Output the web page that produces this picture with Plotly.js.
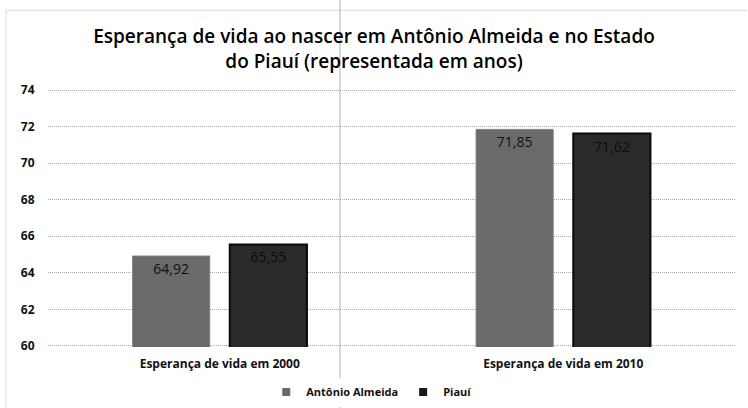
<!DOCTYPE html>
<html>
<head>
<meta charset="utf-8">
<script src="https://cdn.plot.ly/plotly-3.0.1.min.js"></script>
<style>html,body{margin:0;padding:0;background:#fff;}#chart{width:748px;height:408px;}</style>
</head>
<body>
<div id="chart"></div>
<script>
var categories = ["Esperança de vida em 2000", "Esperança de vida em 2010"];
var seriesNames = ["Antônio Almeida", "Piauí"];
var antonioAlmeida = [64.92, 71.85];
var piaui = [65.55, 71.62];
var yTicks = [60, 62, 64, 66, 68, 70, 72, 74];

var fontFam = "'Open Sans', sans-serif";
var colA = "#6a6a6a", colP = "#2a2a2a";

var traces = [
  {
    type: "bar", name: seriesNames[0], x: categories, y: antonioAlmeida,
    marker: {color: colA, line: {color: "#858585", width: 1}},
    texttemplate: "%{y:.2f}", textposition: "inside", insidetextanchor: "end",
    textfont: {family: fontFam, size: 14, color: "#111111"},
    showlegend: false, hoverinfo: "skip"
  },
  {
    type: "bar", name: seriesNames[1], x: categories, y: piaui,
    marker: {color: colP, line: {color: "#0a0a0a", width: 2}},
    texttemplate: "%{y:.2f}", textposition: "inside", insidetextanchor: "end",
    textfont: {family: fontFam, size: 14, color: "#0c0c0c"},
    showlegend: false, hoverinfo: "skip"
  },
  {type: "scatter", mode: "markers", name: seriesNames[0], x: [null], y: [null],
   marker: {symbol: "square", size: 8, color: colA}, hoverinfo: "skip"},
  {type: "scatter", mode: "markers", name: seriesNames[1], x: [null], y: [null],
   marker: {symbol: "square", size: 8, color: "#1a1a1a"}, hoverinfo: "skip"}
];

var layout = {
  width: 748, height: 408,
  margin: {l: 48, r: 13, t: 89, b: 61},
  paper_bgcolor: "#ffffff", plot_bgcolor: "#ffffff",
  separators: ",.",
  title: {
    text: "Esperança de vida ao nascer em Antônio Almeida e no Estado<br>do Piauí (representada em anos)",
    font: {family: fontFam, size: 19, color: "#000", weight: 600},
    x: 0.5, xanchor: "center", xref: "container",
    y: 1 - 43/408, yanchor: "top", yref: "container"
  },
  barmode: "group", bargap: 0.434, bargroupgap: 0.206,
  showlegend: true,
  legend: {
    orientation: "h", x: 0.497, xanchor: "center", xref: "container",
    y: 1 - 392/408, yanchor: "middle", yref: "container",
    font: {family: fontFam, size: 11, color: "#111", weight: "bold"},
    itemwidth: 30, traceorder: "normal"
  },
  xaxis: {
    type: "category", range: [-0.5, 1.5],
    showgrid: false, zeroline: false, showline: false,
    ticks: "outside", ticklen: 6, tickcolor: "rgba(0,0,0,0)",
    tickfont: {family: fontFam, size: 12, color: "#111", weight: "bold"}
  },
  yaxis: {
    range: [59.94, 74.06], tickvals: yTicks, ticktext: yTicks.map(String),
    showgrid: true, gridcolor: "#a8a8a8", griddash: "1px,1px", gridwidth: 1,
    zeroline: false, showline: false,
    ticks: "outside", ticklen: 10, tickcolor: "rgba(0,0,0,0)",
    tickfont: {family: fontFam, size: 12, color: "#111", weight: "bold"}
  },
  shapes: [
    {type: "line", xref: "paper", yref: "paper", x0: -0.061, x1: -0.061, y0: -0.242, y1: 1.305, layer: "below",
     line: {color: "#bbbbbb", width: 1, dash: "1px,1px"}},
    {type: "line", xref: "paper", yref: "paper", x0: -0.061, x1: 1.02, y0: 1.305, y1: 1.305, layer: "below",
     line: {color: "#bbbbbb", width: 1, dash: "1px,1px"}},
    {type: "line", xref: "paper", yref: "paper", x0: 0.425, x1: 0.425, y0: -0.242, y1: 1.35, layer: "above",
     line: {color: "#b0b0b0", width: 1}}
  ]
};

Plotly.newPlot("chart", traces, layout, {displayModeBar: false, staticPlot: true});
</script>
</body>
</html>
